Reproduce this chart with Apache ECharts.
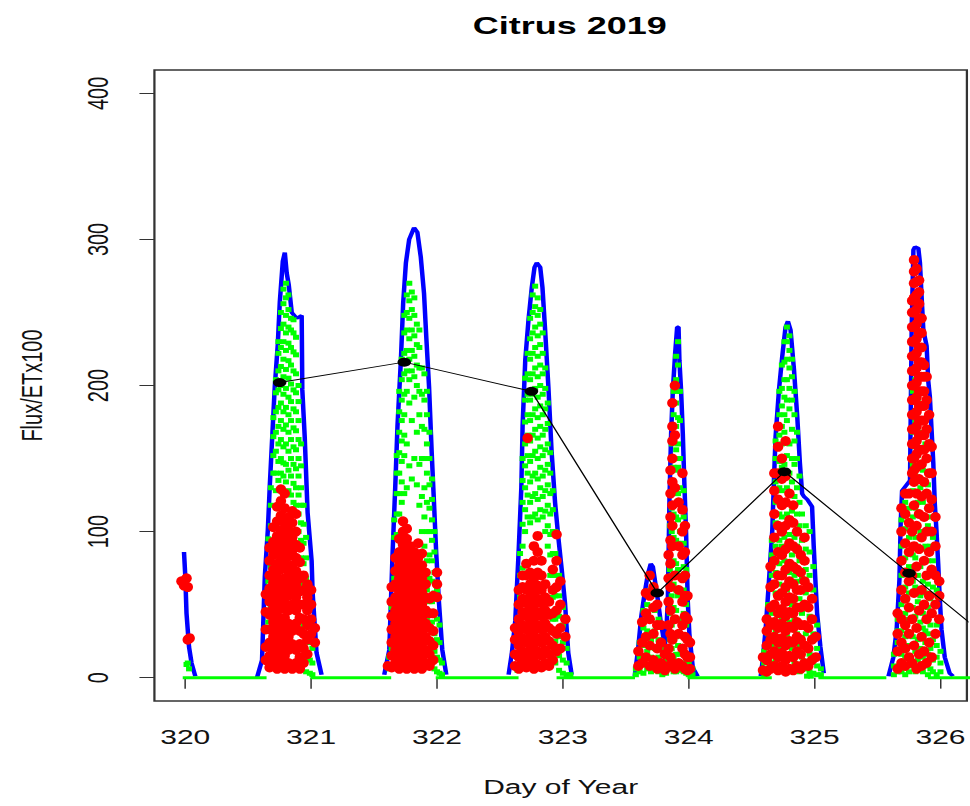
<!DOCTYPE html>
<html>
<head>
<meta charset="utf-8">
<title>Citrus 2019</title>
<script src="https://cdn.jsdelivr.net/npm/echarts@6/dist/echarts.min.js"></script>
<style>
    html, body { margin: 0; padding: 0; background: #fff; overflow: hidden; }
    #wrap { width: 970px; height: 806px; overflow: hidden; }
    /* the source image is stretched sideways, so draw narrow and stretch */
    #chart { width: 647px; height: 806px; transform: scaleX(1.4992); transform-origin: 0 0; }
</style>
</head>
<body>
<div id="wrap"><div id="chart"></div></div>
<script>
(function () {
    'use strict';

    var dayTicks = [320, 321, 322, 323, 324, 325, 326];
    var fluxTicks = [0, 100, 200, 300, 400];

    // blue envelope, one array per day
    var blue320 = [[319.99, 86], [320.0, 70], [320.01, 44], [320.03, 21], [320.05, 10], [320.08, 1]];
    var blue321 = [[320.57, 0], [320.61, 12], [320.632, 69], [320.656, 101], [320.672, 132], [320.711, 199], [320.735, 228], [320.751, 257], [320.775, 285], [320.791, 291], [320.806, 277], [320.822, 269], [320.846, 250], [320.885, 246], [320.925, 248], [320.93, 197], [320.949, 165], [320.972, 113], [321.004, 80], [321.012, 58], [321.043, 17], [321.083, 2]];
    var blue322 = [[321.581, 2], [321.621, 19], [321.647, 85], [321.668, 130], [321.686, 172], [321.713, 217], [321.731, 256], [321.753, 284], [321.779, 300], [321.818, 308], [321.844, 305], [321.871, 288], [321.897, 263], [321.915, 233], [321.937, 199], [321.958, 154], [321.976, 120], [321.994, 85], [322.016, 51], [322.042, 19], [322.074, 2]];
    var blue323 = [[322.569, 2], [322.595, 17], [322.622, 39], [322.648, 85], [322.670, 130], [322.680, 172], [322.701, 217], [322.727, 245], [322.753, 267], [322.775, 281], [322.793, 284], [322.820, 281], [322.838, 267], [322.859, 238], [322.885, 199], [322.911, 154], [322.938, 120], [322.964, 96], [322.991, 74], [323.017, 51], [323.043, 17], [323.070, 2]];
    var blue324 = [[323.571, 1], [323.597, 19], [323.623, 42], [323.650, 58], [323.676, 71], [323.698, 78], [323.715, 76], [323.734, 65], [323.755, 53], [323.776, 39], [323.794, 30], [323.808, 21], [323.821, 30], [323.834, 53], [323.847, 122], [323.860, 167], [323.874, 197], [323.892, 222], [323.908, 240], [323.919, 240], [323.926, 217], [323.939, 197], [323.953, 167], [323.966, 131], [323.979, 99], [323.992, 53], [324.005, 30], [324.032, 7], [324.071, 1]];
    var blue325 = [[324.572, 1], [324.585, 10], [324.611, 33], [324.638, 67], [324.664, 101], [324.677, 135], [324.690, 165], [324.717, 197], [324.743, 220], [324.769, 240], [324.788, 244], [324.809, 238], [324.836, 211], [324.862, 179], [324.883, 147], [324.901, 126], [324.915, 124], [324.941, 122], [324.980, 117], [324.993, 90], [325.006, 67], [325.020, 44], [325.046, 21], [325.073, 3]];
    var blue326 = [[325.587, 1], [325.626, 14], [325.652, 33], [325.674, 67], [325.684, 106], [325.695, 128], [325.758, 135], [325.771, 238], [325.785, 293], [325.798, 295], [325.824, 294], [325.837, 284], [325.850, 261], [325.864, 238], [325.890, 227], [325.903, 203], [325.916, 192], [325.929, 170], [325.943, 147], [325.955, 119], [325.968, 101], [325.982, 78], [325.994, 55], [326.008, 33], [326.034, 14], [326.073, 3], [326.100, 1]];

    // green zero stretches at night [from, to]
    var greenNight = [[319.98, 320.646], [320.996, 321.636], [321.99, 322.648], [322.95, 323.573], [323.99, 324.66], [325.03, 325.57], [325.9, 326.25]];

    // scatter columns: [day, y1, y2, ...]
    var green320 = [[320.01, 9], [320.02, 10], [320.03, 6]];
    var green321 = [
        [320.66, 12, 24, 38, 52, 66, 80, 95], [320.68, 8, 20, 34, 48, 62, 76, 90, 104, 118, 130],
        [320.70, 140, 152, 165, 178], [320.72, 128, 140, 155, 168, 182, 195, 204],
        [320.74, 135, 148, 160, 172, 185, 197, 210, 222, 230], [320.76, 140, 150, 163, 176, 188, 200, 213, 226, 239, 250],
        [320.78, 138, 147, 158, 170, 182, 194, 206, 218, 230, 242, 256, 266], [320.80, 134, 146, 160, 173, 185, 198, 211, 224, 236, 248, 260, 270],
        [320.82, 128, 142, 155, 168, 180, 192, 205, 217, 229, 240, 252, 262], [320.84, 125, 138, 150, 163, 176, 189, 201, 214, 226, 238, 246],
        [320.86, 120, 133, 146, 158, 171, 184, 197, 210, 223, 236, 245], [320.88, 118, 130, 143, 156, 169, 182, 195, 208, 221, 233],
        [320.90, 100, 112, 125, 138, 150, 163, 176, 189, 200], [320.92, 70, 82, 94, 106, 118, 130, 145, 160],
        [320.94, 10, 22, 36, 50, 64, 78, 92, 105, 118], [320.96, 4, 14, 26, 40, 54, 68, 82, 96],
        [320.99, 3, 12, 24, 36, 48, 60], [321.01, 2, 10, 20]
    ];
    var green322 = [
        [321.62, 6, 14], [321.64, 20, 34, 48, 62], [321.66, 40, 54, 68, 82, 96, 108],
        [321.68, 70, 84, 98, 112, 126, 140, 152], [321.70, 112, 126, 140, 154, 168, 182, 196],
        [321.72, 120, 134, 148, 162, 176, 190, 204, 218], [321.74, 126, 152, 166, 180, 194, 208, 222, 236, 248],
        [321.76, 130, 160, 196, 210, 224, 238, 250, 262], [321.78, 145, 188, 204, 218, 232, 246, 258, 270],
        [321.80, 136, 176, 210, 224, 238, 252, 264], [321.82, 150, 192, 206, 220, 234, 248, 260],
        [321.84, 132, 168, 200, 214, 228, 242], [321.86, 118, 146, 180, 196, 212, 226, 238],
        [321.88, 100, 124, 150, 172, 194, 212], [321.90, 90, 110, 130, 150, 170, 190, 208],
        [321.92, 40, 60, 80, 100, 120, 140, 160, 180, 196], [321.94, 20, 36, 52, 68, 84, 100, 116, 132, 150, 168],
        [321.96, 10, 24, 38, 52, 66, 80, 94, 108, 122, 136], [321.98, 6, 18, 30, 44, 58, 72, 86, 100],
        [322.00, 4, 14, 26, 40, 60], [322.02, 3, 12, 24, 36], [322.04, 2, 10]
    ];
    var green323 = [
        [322.64, 5, 15, 28], [322.66, 40, 55, 70, 85], [322.68, 60, 75, 90, 105, 120, 135, 150],
        [322.70, 100, 115, 130, 145, 160, 175, 190, 205], [322.72, 110, 125, 140, 152, 166, 180, 194, 208, 222],
        [322.74, 106, 120, 134, 148, 162, 176, 190, 204, 218, 232, 246], [322.76, 110, 124, 138, 152, 166, 180, 194, 208, 222, 236, 250, 262],
        [322.78, 112, 126, 140, 155, 170, 184, 198, 212, 226, 240, 254, 268], [322.80, 108, 122, 136, 150, 164, 178, 192, 206, 220, 234, 248, 260],
        [322.82, 115, 130, 144, 158, 172, 186, 200, 214, 228, 242, 252], [322.84, 110, 124, 138, 152, 166, 180, 194, 208, 222, 236],
        [322.86, 100, 114, 128, 142, 156, 170, 184, 198, 212], [322.88, 90, 104, 118, 132, 146, 160, 174, 188],
        [322.90, 70, 84, 98, 112, 126, 140, 154], [322.92, 40, 55, 70, 85, 100, 115, 128],
        [322.94, 10, 25, 40, 56, 70, 85, 100], [322.97, 5, 15, 28, 42, 56, 70],
        [323.00, 3, 12, 24, 36, 48], [323.03, 2, 10, 20], [323.06, 2]
    ];
    var green324 = [
        [323.58, 2, 6], [323.61, 4, 14, 24], [323.64, 3, 12, 22, 34, 46], [323.67, 6, 18, 32, 50],
        [323.70, 4, 14, 26, 40, 60], [323.73, 8, 20, 32, 46], [323.76, 4, 14, 26, 40], [323.79, 2, 10, 20],
        [323.82, 3, 12], [323.85, 10, 26, 44, 74, 104], [323.865, 6, 20, 36, 56, 70, 100, 116, 134, 160],
        [323.88, 4, 14, 30, 48, 64, 80, 96, 112, 128, 144, 162, 180, 196],
        [323.90, 4, 16, 28, 46, 60, 78, 94, 110, 126, 142, 156, 172, 188, 204, 220],
        [323.915, 8, 22, 40, 56, 74, 92, 108, 126, 144, 160, 178, 196, 214, 230],
        [323.93, 5, 16, 40, 70, 100, 130, 150, 176, 196], [323.96, 4, 20, 44, 60, 76, 92, 110, 128],
        [323.98, 3, 12, 36, 50, 74], [324.00, 2, 10, 24, 40], [324.03, 2, 6]
    ];
    var green325 = [
        [324.60, 2, 10, 18], [324.63, 4, 16, 30, 40, 50], [324.66, 10, 22, 44, 70, 84, 94],
        [324.69, 12, 32, 58, 72, 90, 106, 120, 134, 150, 162], [324.72, 20, 48, 64, 78, 94, 112, 130, 148, 166, 180, 196],
        [324.74, 40, 90, 110, 128, 144, 160, 172, 186, 198, 214], [324.76, 16, 34, 80, 96, 146, 168, 180, 192, 204, 216, 230],
        [324.78, 28, 60, 112, 130, 152, 176, 190, 204, 218, 230, 240], [324.80, 38, 72, 98, 140, 160, 184, 198, 212, 224, 234],
        [324.82, 20, 50, 84, 114, 134, 150, 170, 190, 206, 218], [324.84, 10, 40, 70, 96, 124, 146, 162, 180, 196],
        [324.86, 30, 66, 90, 112, 130, 150, 168], [324.88, 4, 22, 54, 80, 104, 120, 138],
        [324.90, 14, 44, 68, 94, 112], [324.93, 6, 30, 58, 74, 88, 104], [324.94, 1], [324.96, 4, 16, 42, 70, 86, 100],
        [324.97, 1], [324.99, 3, 12, 30, 60, 76], [325.02, 2, 8, 20, 36], [325.05, 2, 6]
    ];
    var green326 = [
        [325.63, 2, 8, 16], [325.66, 4, 24, 32, 40], [325.69, 4, 16, 32, 50, 70, 90, 108],
        [325.72, 2, 14, 28, 44, 62, 82, 102, 120], [325.75, 4, 22, 40, 58, 76, 96, 116, 126],
        [325.78, 8, 28, 48, 66, 84, 110, 128, 146, 168, 196], [325.80, 4, 18, 42, 62, 82, 96, 116, 138, 158, 176, 204, 232],
        [325.82, 12, 26, 52, 70, 90, 120, 152, 190], [325.84, 6, 20, 38, 56, 76, 100, 130, 168],
        [325.86, 4, 14, 34, 44, 66, 88, 120, 142], [325.88, 8, 24, 32, 58, 90, 110, 160],
        [325.90, 2, 16, 30, 48, 64, 80, 104, 132], [325.92, 6, 20, 36, 54, 90, 110],
        [325.94, 4, 12, 26, 62, 80, 96], [325.97, 2, 14, 22, 36, 60], [326.00, 4, 10, 18]
    ];

    var red320 = [[319.97, 66], [319.99, 63], [320.01, 68], [320.02, 62, 26], [320.035, 27]];
    var red321 = [
        [320.64, 12, 21, 33, 45, 57], [320.67, 7, 15, 24, 33, 43, 52, 61, 70, 80, 89],
        [320.70, 10, 19, 28, 38, 47, 56, 65, 74, 84, 93, 103], [320.73, 6, 14, 24, 33, 42, 51, 60, 69, 78, 88, 97, 107, 117],
        [320.76, 10, 19, 28, 37, 47, 56, 65, 74, 83, 92, 101, 111, 121, 129], [320.79, 6, 15, 24, 32, 41, 51, 60, 68, 78, 87, 97, 106, 116, 126],
        [320.82, 10, 19, 28, 37, 46, 56, 64, 73, 83, 92, 101, 110], [320.85, 6, 23, 32, 50, 59, 68, 77, 87, 96, 106, 114],
        [320.88, 10, 19, 37, 46, 55, 64, 73, 82, 91, 100, 112], [320.91, 6, 14, 23, 32, 41, 50, 59, 68, 79, 89],
        [320.94, 10, 20, 30, 40, 50, 60, 70], [320.97, 16, 26, 36, 46, 55, 64],
        [321.00, 30, 40, 50, 60], [321.03, 24, 34]
    ];
    var red322 = [
        [321.61, 8], [321.64, 7, 15, 24, 33, 42, 52, 62], [321.67, 10, 19, 28, 37, 46, 55, 64, 73, 82],
        [321.70, 6, 14, 23, 32, 41, 50, 59, 68, 77, 86, 95], [321.73, 10, 19, 28, 37, 46, 55, 64, 73, 82, 91, 100, 107],
        [321.76, 6, 14, 23, 32, 41, 50, 59, 68, 77, 86, 95, 102], [321.79, 10, 19, 28, 37, 46, 55, 64, 73, 82, 90],
        [321.82, 6, 14, 23, 32, 41, 50, 59, 68, 77, 86], [321.85, 10, 19, 28, 37, 46, 55, 64, 73, 82, 92],
        [321.88, 6, 14, 23, 32, 41, 50, 59, 68, 77, 85], [321.91, 10, 19, 28, 37, 46, 55, 64, 72],
        [321.94, 8, 16, 25, 34, 44, 54], [321.97, 12, 22, 32, 44, 56], [322.00, 55, 64, 72]
    ];
    var red323 = [
        [322.62, 8, 16, 26, 34], [322.65, 6, 14, 22, 31, 40, 50, 60], [322.68, 10, 18, 27, 36, 45, 54, 62, 70],
        [322.71, 7, 15, 24, 33, 42, 51, 60, 70, 78], [322.72, 164], [322.74, 10, 19, 28, 37, 46, 55, 64, 72],
        [322.77, 6, 14, 23, 32, 41, 50, 59, 68, 80, 90], [322.80, 9, 18, 27, 36, 45, 54, 63, 72, 86, 97],
        [322.83, 7, 15, 24, 33, 42, 51, 60, 70, 80], [322.86, 10, 19, 28, 37, 46, 55, 64],
        [322.89, 8, 16, 25, 34, 43, 52], [322.92, 12, 22, 32, 44, 60, 74], [322.95, 18, 30, 46, 62, 80, 98],
        [322.98, 20, 34, 50, 66], [323.02, 28, 40]
    ];
    var red324 = [
        [323.60, 8, 18], [323.63, 10, 24, 38], [323.66, 14, 28, 44, 58], [323.69, 8, 22, 40, 56, 70],
        [323.72, 12, 30, 48, 62], [323.75, 6, 20, 36, 50], [323.78, 10, 24, 36], [323.81, 5, 16],
        [323.84, 8, 20, 36, 52, 68, 84], [323.855, 14, 30, 46, 62, 78, 94, 110, 126, 142],
        [323.87, 10, 26, 90, 104, 118, 134, 150, 162, 172, 188], [323.89, 6, 40, 70, 130, 166, 200], [323.92, 10, 30, 60, 90, 120],
        [323.95, 8, 20, 36, 52, 68, 84, 100, 115, 140], [323.97, 6, 16, 28, 42, 56, 70, 86, 104],
        [323.99, 5, 14, 26, 40, 56], [324.01, 6, 14, 24]
    ];
    var red325 = [
        [324.59, 5, 14], [324.62, 4, 12, 22, 32, 40], [324.65, 6, 16, 26, 36, 48, 62, 76],
        [324.68, 8, 18, 28, 38, 50, 64, 80, 96, 112, 128, 140], [324.71, 5, 14, 24, 34, 44, 56, 70, 86, 104, 122, 140, 158, 172],
        [324.74, 8, 17, 27, 37, 47, 58, 70, 84, 100, 118, 136, 150], [324.77, 4, 12, 22, 32, 42, 52, 62, 74, 88, 104, 120, 138, 162],
        [324.80, 6, 15, 25, 35, 45, 55, 66, 78, 92, 108, 126], [324.83, 5, 14, 24, 34, 44, 54, 64, 76, 90, 106, 118],
        [324.86, 8, 18, 28, 38, 48, 60, 74, 88, 100], [324.89, 6, 16, 26, 36, 48, 60, 72, 84],
        [324.92, 10, 22, 36, 50, 66, 80, 96], [324.95, 8, 20, 34, 48, 62], [324.98, 12, 26, 40, 54], [325.01, 14, 28]
    ];
    var red326 = [
        [325.66, 6, 18, 30, 44], [325.69, 10, 24, 40, 60, 80, 100, 116], [325.72, 8, 20, 36, 54, 72, 92, 112, 126],
        [325.75, 14, 30, 48, 66, 86, 106, 126],
        [325.775, 10, 40, 70, 100, 140, 150, 160, 170, 180, 190, 200, 210, 220, 230, 240, 250, 258],
        [325.79, 22, 58, 90, 118, 134, 142, 150, 160, 170, 180, 190, 200, 210, 220, 230, 240, 250, 260, 270, 278, 286],
        [325.81, 6, 34, 76, 104, 126, 144, 153, 162, 172, 182, 192, 202, 212, 222, 232, 242, 252, 262, 271, 280],
        [325.83, 16, 46, 88, 112, 136, 156, 166, 176, 186, 196, 206, 216, 226, 236, 246, 256, 264, 272],
        [325.85, 8, 28, 60, 96, 124, 146, 156, 166, 176, 186, 196, 206, 216, 226, 236, 246],
        [325.87, 18, 50, 80, 110, 134, 156, 166, 176, 186, 196, 206, 214],
        [325.89, 10, 40, 70, 100, 126, 150, 170, 190, 206], [325.91, 24, 56, 86, 116, 140, 160, 180],
        [325.93, 14, 44, 74, 100, 122, 140, 158], [325.96, 30, 50, 70, 90, 110], [325.99, 40, 56, 66]
    ];

    // daily values (black)
    var dailyDay = [320.75, 321.74, 322.75, 323.75, 324.76, 325.75, 326.75];
    var dailyFlux = [202, 216, 196, 58, 141, 71.5, 1];

    //把列展开成点
    function flatten(groups) {
        var out = [];
        groups.forEach(function (cols) {
            cols.forEach(function (c) {
                for (var i = 1; i < c.length; i++) out.push([c[0], c[i]]);
            });
        });
        return out;
    }

    var font = 'Liberation Sans, Arial, sans-serif';
    var series = [];

    [blue320, blue321, blue322, blue323, blue324, blue325, blue326].forEach(function (arr) {
        series.push({
            type: 'line', data: arr, symbol: 'none', z: 1,
            lineStyle: { color: '#0000ff', width: 3 }
        });
    });

    greenNight.forEach(function (seg) {
        series.push({
            type: 'line', data: [[seg[0], 0], [seg[1], 0]], symbol: 'none', z: 2,
            lineStyle: { color: '#00ff00', width: 3 }
        });
    });

    series.push({
        type: 'scatter', z: 2, symbol: 'rect', symbolSize: [4, 5],
        itemStyle: { color: '#00ff00', opacity: 1 },
        data: flatten([green320, green321, green322, green323, green324, green325, green326])
    });

    series.push({
        type: 'scatter', z: 3, symbol: 'circle', symbolSize: [7, 10],
        itemStyle: { color: '#ff0000', opacity: 1 },
        data: flatten([red320, red321, red322, red323, red324, red325, red326])
    });

    series.push({
        type: 'line', z: 4, symbol: 'circle', symbolSize: 9,
        itemStyle: { color: '#000', opacity: 1 },
        lineStyle: { color: '#000', width: 1 },
        data: dailyDay.map(function (d, i) { return [d, dailyFlux[i]]; })
    });

    var myChart = echarts.init(document.getElementById('chart'), null, { renderer: 'svg' });

    var option = {
        animation: false,
        backgroundColor: '#fff',
        title: {
            text: 'Citrus 2019',
            left: 375, top: 8, textAlign: 'center',
            textStyle: { fontFamily: font, fontSize: 24, fontWeight: 'bold', color: '#000' }
        },
        grid: {
            left: 103, top: 70, width: 546, height: 631,
            show: true, borderColor: '#333', borderWidth: 1.5, backgroundColor: 'transparent'
        },
        xAxis: {
            type: 'value', min: 319.755, max: 326.21,
            name: 'Day of Year', nameLocation: 'middle', nameGap: 76,
            nameTextStyle: { fontFamily: font, fontSize: 20, color: '#111' },
            axisLine: { show: false },
            splitLine: { show: false },
            axisTick: { show: true, length: 11, customValues: dayTicks, lineStyle: { color: '#333', width: 1 } },
            axisLabel: { customValues: dayTicks, margin: 26, fontFamily: font, fontSize: 20, color: '#111' }
        },
        yAxis: {
            type: 'value', min: -16, max: 416,
            name: 'Flux/ETx100', nameLocation: 'middle', nameGap: 72,
            nameTextStyle: { fontFamily: font, fontSize: 20, color: '#111' },
            axisLine: { show: false },
            splitLine: { show: false },
            axisTick: { show: true, length: 10, customValues: fluxTicks, lineStyle: { color: '#333', width: 1 } },
            axisLabel: { customValues: fluxTicks, rotate: 90, margin: 28, fontFamily: font, fontSize: 20, color: '#111' }
        },
        series: series
    };

    myChart.setOption(option);
})();
</script>
</body>
</html>
